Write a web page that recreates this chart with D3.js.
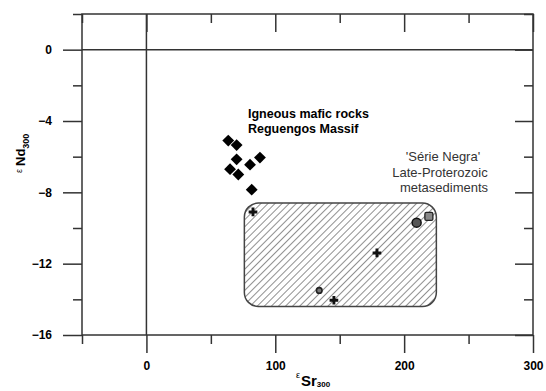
<!DOCTYPE html>
<html>
<head>
<meta charset="utf-8">
<script src="https://cdn.jsdelivr.net/npm/d3@7"></script>
<style>
  body { margin: 0; background: #fff; }
  svg { display: block; font-family: Arial, "Liberation Sans", sans-serif; }
</style>
</head>
<body>
<svg id="chart" width="546" height="391"></svg>
<script>
// igneous mafic rocks, Reguengos Massif (diamonds)
const igneousSr = [63.5, 70, 70, 80.4, 88.1, 64.9, 71.3, 81.7];
const igneousNd = [-5.1, -5.35, -6.15, -6.45, -6.05, -6.7, -7.0, -7.85];

// 'Serie Negra' metasediments
const crossSr = [82.7, 178.9, 145.5];
const crossNd = [-9.1, -11.4, -14.05];
const circleSr = [209.7];
const circleNd = [-9.7];
const squareSr = [219.2];
const squareNd = [-9.35];
const smallSr = [134.1];
const smallNd = [-13.5];

// field of the metasediments
const fieldSr = [76, 225];
const fieldNd = [-8.6, -14.4];

const xMajor = [0, 100, 200, 300];
const xMinor = [-50, 50, 150, 250];
const yMajor = [-16, -12, -8, -4, 0];
const yMinor = [-14, -10, -6, -2, 2];

const svg = d3.select("#chart");
const margin = {left: 82, top: 14, right: 13, bottom: 56};
const width = 546 - margin.left - margin.right,
  height = 391 - margin.top - margin.bottom;

const x = d3.scaleLinear().domain([-50, 300]).range([0, width]);
const y = d3.scaleLinear().domain([-16, 2]).range([height, 0]);

const g = svg.append("g")
  .attr("transform", `translate(${margin.left},${margin.top})`);

// hatch pattern for the field
const defs = svg.append("defs");
defs.append("pattern")
  .attr("id", "hatch")
  .attr("patternUnits", "userSpaceOnUse")
  .attr("width", 5).attr("height", 5)
  .attr("patternTransform", "rotate(45)")
  .append("line")
  .attr("x1", 0).attr("y1", 0).attr("x2", 0).attr("y2", 5)
  .attr("stroke", "#333").attr("stroke-width", 1.1);

g.append("rect")
  .attr("x", x(fieldSr[0]))
  .attr("y", y(fieldNd[0]))
  .attr("width", x(fieldSr[1]) - x(fieldSr[0]))
  .attr("height", y(fieldNd[1]) - y(fieldNd[0]))
  .attr("rx", 14).attr("ry", 14)
  .attr("fill", "url(#hatch)")
  .attr("stroke", "#444")
  .attr("stroke-width", 1.5);

// axes: left/bottom ticks outward, top/right inward
function styleAxis(sel) {
  sel.select(".domain").remove();
  sel.selectAll("line").attr("stroke", "#333").attr("stroke-width", 1.5);
  sel.selectAll("text").attr("fill", "#000")
    .style("font-size", "12px").style("font-weight", "bold");
}

g.append("g").attr("transform", `translate(0,${height})`)
  .call(d3.axisBottom(x).tickValues(xMajor).tickSize(18).tickPadding(8).tickFormat(d3.format("d")))
  .call(styleAxis);
g.append("g").attr("transform", `translate(0,${height})`)
  .call(d3.axisBottom(x).tickValues(xMinor).tickSize(9).tickFormat(""))
  .call(styleAxis);
g.append("g")
  .call(d3.axisTop(x).tickValues(xMajor).tickSize(-18).tickFormat(""))
  .call(styleAxis);
g.append("g")
  .call(d3.axisTop(x).tickValues(xMinor).tickSize(-9).tickFormat(""))
  .call(styleAxis);

g.append("g")
  .call(d3.axisLeft(y).tickValues(yMajor).tickSize(19).tickPadding(11).tickFormat(d3.format("d")))
  .call(styleAxis);
g.append("g")
  .call(d3.axisLeft(y).tickValues(yMinor).tickSize(9).tickFormat(""))
  .call(styleAxis);
g.append("g").attr("transform", `translate(${width},0)`)
  .call(d3.axisRight(y).tickValues(yMajor).tickSize(-18).tickFormat(""))
  .call(styleAxis);
g.append("g").attr("transform", `translate(${width},0)`)
  .call(d3.axisRight(y).tickValues(yMinor).tickSize(-9).tickFormat(""))
  .call(styleAxis);

// frame
g.append("rect")
  .attr("width", width).attr("height", height)
  .attr("fill", "none").attr("stroke", "#333").attr("stroke-width", 1.5);

// zero lines
g.append("line")
  .attr("x1", x(0)).attr("x2", x(0)).attr("y1", 0).attr("y2", height)
  .attr("stroke", "#333").attr("stroke-width", 1.5);
g.append("line")
  .attr("x1", 0).attr("x2", width).attr("y1", y(0)).attr("y2", y(0))
  .attr("stroke", "#333").attr("stroke-width", 1.5);

// igneous diamonds
const diamond = d3.symbol().type(d3.symbolSquare).size(70);
g.selectAll(".ign")
  .data(igneousSr)
  .enter().append("path")
  .attr("class", "ign")
  .attr("d", diamond)
  .attr("transform", (d, i) => `translate(${x(d)},${y(igneousNd[i])}) rotate(45)`)
  .attr("fill", "#000");

// metasediment symbols
const cross = d3.symbol().type(d3.symbolCross).size(42);
g.selectAll(".crs")
  .data(crossSr)
  .enter().append("path")
  .attr("class", "crs")
  .attr("d", cross)
  .attr("transform", (d, i) => `translate(${x(d)},${y(crossNd[i])})`)
  .attr("fill", "#111");

g.selectAll(".circ")
  .data(circleSr)
  .enter().append("circle")
  .attr("cx", d => x(d))
  .attr("cy", (d, i) => y(circleNd[i]))
  .attr("r", 4.5)
  .attr("fill", "#555").attr("stroke", "#111").attr("stroke-width", 1.5);

g.selectAll(".sq")
  .data(squareSr)
  .enter().append("rect")
  .attr("x", d => x(d) - 4)
  .attr("y", (d, i) => y(squareNd[i]) - 4)
  .attr("width", 8).attr("height", 8)
  .attr("rx", 1.5)
  .attr("fill", "#888").attr("stroke", "#222").attr("stroke-width", 1.3);

g.selectAll(".sm")
  .data(smallSr)
  .enter().append("circle")
  .attr("cx", d => x(d))
  .attr("cy", (d, i) => y(smallNd[i]))
  .attr("r", 2.8)
  .attr("fill", "#777").attr("stroke", "#222").attr("stroke-width", 1.6);

// annotations
const ign = svg.append("text")
  .attr("x", 248).attr("y", 118)
  .style("font-size", "12.5px").style("font-weight", "bold")
  .attr("fill", "#000");
ign.append("tspan").attr("x", 248).text("Igneous mafic rocks");
ign.append("tspan").attr("x", 248).attr("dy", 15).text("Reguengos Massif");

const sn = svg.append("text")
  .attr("text-anchor", "middle")
  .style("font-size", "13px")
  .attr("fill", "#333");
sn.append("tspan").attr("x", 443).attr("y", 161).text("'Série Negra'");
sn.append("tspan").attr("x", 440).attr("y", 177).text("Late-Proterozoic");
sn.append("tspan").attr("x", 444).attr("y", 192).text("metasediments");

// axis titles
const xt = svg.append("text")
  .attr("x", 296).attr("y", 386)
  .attr("fill", "#000");
xt.append("tspan").style("font-size", "9px").attr("dy", -8).text("ε");
xt.append("tspan").style("font-size", "15px").style("font-weight", "bold").attr("dy", 8).attr("dx", 1).text("Sr");
xt.append("tspan").style("font-size", "8px").style("font-weight", "bold").attr("dy", 1).text("300");

const yt = svg.append("text")
  .attr("transform", "translate(25,173) rotate(-90)")
  .attr("fill", "#000");
yt.append("tspan").style("font-size", "9px").attr("dy", -3).text("ε");
yt.append("tspan").style("font-size", "13px").style("font-weight", "bold").attr("dx", 3).attr("dy", 3).text("Nd");
yt.append("tspan").style("font-size", "9px").style("font-weight", "bold").attr("dy", 4).text("300");
</script>
</body>
</html>
